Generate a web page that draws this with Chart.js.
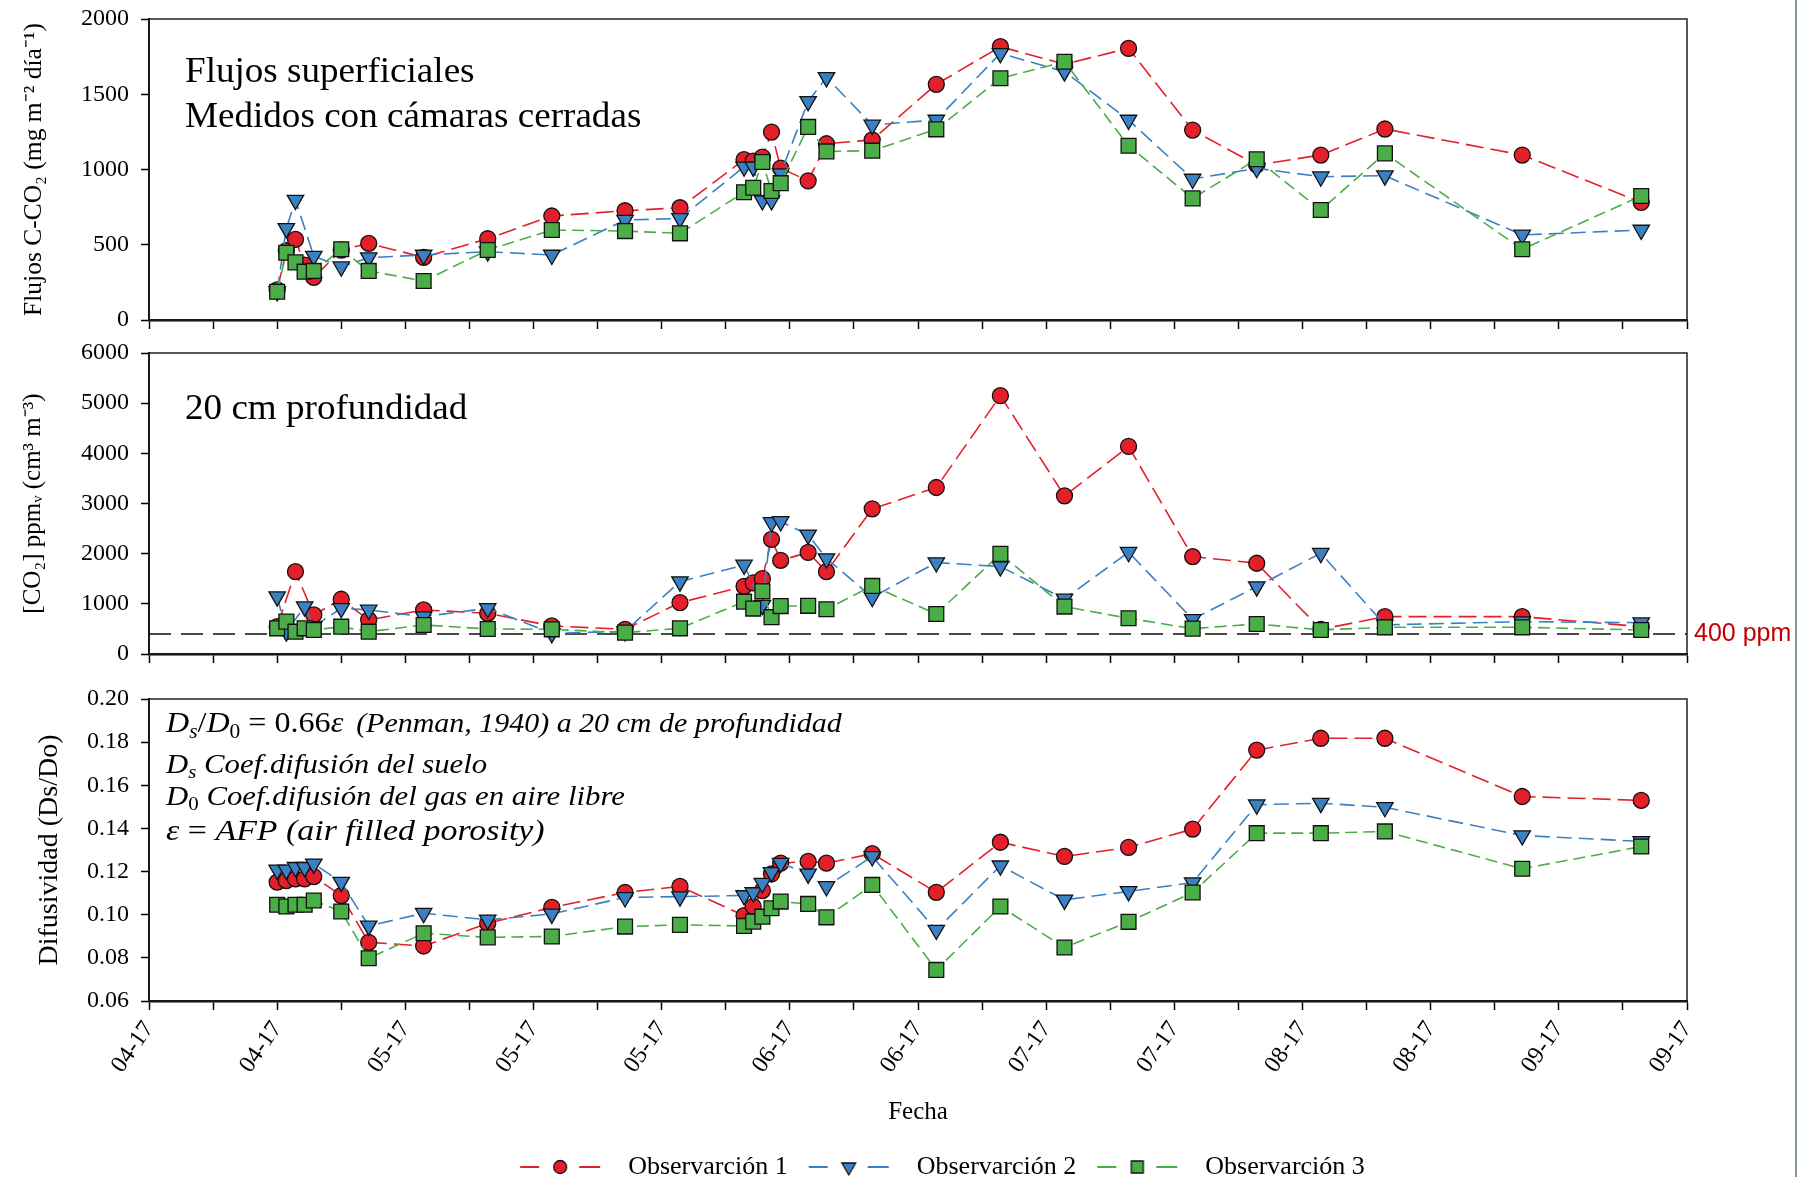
<!DOCTYPE html>
<html>
<head>
<meta charset="utf-8">
<title>Flujos y concentraciones de CO2</title>
<script src="https://cdn.jsdelivr.net/npm/chart.js@4.4.1/dist/chart.umd.min.js"></script>
<style>
    html, body { margin: 0; padding: 0; background: #fff; }
    #page { position: relative; width: 1799px; height: 1177px; overflow: hidden; }
    .panel { position: absolute; left: 0; width: 1799px; }
    #edge { position: absolute; left: 1795px; top: 0; width: 2px; height: 1177px; background: #7f9c93; }
</style>
</head>
<body>
<div id="page">
    <div class="panel" style="top:0;height:340px"><canvas id="fluxChart"></canvas></div>
    <div class="panel" style="top:335px;height:340px"><canvas id="co2Chart"></canvas></div>
    <div class="panel" style="top:680px;height:510px"><canvas id="diffChart"></canvas></div>
    <div id="edge"></div>
</div>
<script>
// Data (sampling dates shared by the three panels)
const startDate = '2017-04-04';
const endDay = 168;

const sampleDates = [
    '2017-04-18', '2017-04-19', '2017-04-20', '2017-04-21', '2017-04-22', '2017-04-25',
    '2017-04-28', '2017-05-04', '2017-05-11', '2017-05-18', '2017-05-26', '2017-06-01',
    '2017-06-08', '2017-06-09', '2017-06-10', '2017-06-11', '2017-06-12', '2017-06-15',
    '2017-06-17', '2017-06-22', '2017-06-29', '2017-07-06', '2017-07-13', '2017-07-20',
    '2017-07-27', '2017-08-03', '2017-08-10', '2017-08-17', '2017-09-01', '2017-09-14'
];

const seriesNames = ['Observarción 1', 'Observarción 2', 'Observarción 3'];

// Flujos superficiales C-CO2 (mg m-2 dia-1)
const fluxObs1 = [200, 460, 536, 365, 283, 465, 509, 416, 540, 691, 726, 746, 1065, 1056, 1082, 1249, 1009, 925, 1171, 1197, 1566, 1816, 1700, 1805, 1262, 1030, 1096, 1269, 1096, 782];
const fluxObs2 = [190, 609, 797, null, 425, 354, 414, 432, 454, 432, 664, 675, 1018, 1017, 794, 794, 973, 1453, 1612, 1296, 1329, 1772, 1650, 1329, 937, 1008, 952, 959, 565, 598];
const fluxObs3 = [188, 447, 383, 321, 326, 470, 326, 259, 465, 598, 591, 576, 849, 879, 1050, 857, 909, 1283, 1120, 1125, 1267, 1606, 1716, 1158, 808, 1068, 731, 1107, 470, 824];

// [CO2] ppmV a 20 cm
const co2Obs1 = [545, null, 1642, null, 778, 1091, 678, 878, 812, 559, 492, 1024, 1350, 1418, 1502, 2285, 1866, 2024, 1642, 2894, 3319, 5149, 3153, 4137, 1942, 1809, 492, 745, 745, 545];
const co2Obs2 = [1143, 445, null, 944, 550, 911, 878, 745, 911, 412, 450, 1443, 1775, null, 974, 2622, 2642, 2375, 1903, 1131, 1823, 1743, 1098, 2029, 692, 1344, 2009, 580, 645, 625];
const co2Obs3 = [512, 645, 445, 512, 479, 545, 445, 579, 499, 492, 426, 512, 1043, 905, 1249, 734, 955, 960, 892, 1357, 798, 1996, 945, 712, 506, 599, 479, 532, 532, 479];
const co2Ambient = 400;

// Difusividad (Ds/Do)
const diffObs1 = [0.1151, 0.1158, 0.1166, 0.1166, 0.1177, 0.1089, 0.0872, 0.0855, 0.0960, 0.1034, 0.1103, 0.1131, 0.0996, 0.1038, 0.1112, 0.1189, 0.1239, 0.1247, 0.1239, 0.1283, 0.1104, 0.1336, 0.1270, 0.1312, 0.1397, 0.1763, 0.1818, 0.1818, 0.1548, 0.1530];
const diffObs2 = [0.1208, 0.1208, 0.1220, 0.1220, 0.1236, 0.1151, 0.0948, 0.1007, 0.0976, 0.1004, 0.1080, 0.1084, 0.1089, 0.1103, 0.1146, 0.1196, 0.1239, 0.1189, 0.1131, 0.1270, 0.0929, 0.1227, 0.1069, 0.1108, 0.1149, 0.1510, 0.1517, 0.1498, 0.1367, 0.1340];
const diffObs3 = [0.1046, 0.1038, 0.1046, 0.1046, 0.1066, 0.1015, 0.0798, 0.0914, 0.0895, 0.0899, 0.0945, 0.0953, 0.0948, 0.0968, 0.0991, 0.1030, 0.1061, 0.1050, 0.0988, 0.1138, 0.0744, 0.1038, 0.0848, 0.0967, 0.1103, 0.1378, 0.1378, 0.1386, 0.1213, 0.1316];

// ---------------------------------------------------------------

const SERIF = '"Liberation Serif", "Times New Roman", serif';
Chart.defaults.font.family = SERIF;
Chart.defaults.color = '#000';

const styles = [
    { color: '#e3202a', dash: [18, 7], point: 'circle', radius: 8, legendRadius: 6.5, rot: 0 },
    { color: '#3a80c2', dash: [15, 7], point: 'triangle', radius: 9.5, legendRadius: 8, rot: 180 },
    { color: '#4bad48', dash: [12, 6], point: 'rect', radius: 10.5, legendRadius: 8.5, rot: 0 }
];

const dayOf = d => Math.round((Date.parse(d) - Date.parse(startDate)) / 86400000);

function tickDate(v) {
    const d = new Date(Date.parse(startDate) + v * 86400000);
    return String(d.getUTCMonth() + 1).padStart(2, '0') + '-' + String(d.getUTCFullYear()).slice(2);
}

function toPoints(values) {
    const pts = [];
    values.forEach((v, i) => { if (v !== null) pts.push({ x: dayOf(sampleDates[i]), y: v }); });
    return pts;
}

function makeDatasets(valueLists) {
    return valueLists.map((vals, i) => {
        const s = styles[i];
        return {
            label: seriesNames[i],
            data: toPoints(vals),
            borderColor: s.color,
            backgroundColor: s.color,
            borderWidth: 1.6,
            borderDash: s.dash,
            pointStyle: s.point,
            pointRadius: s.radius,
            pointRotation: s.rot,
            pointBackgroundColor: s.color,
            pointBorderColor: '#111',
            pointBorderWidth: 1.3,
            tension: 0,
            order: 3 - i
        };
    });
}

// legend sample: dash - marker - dash
function legendIcon(s) {
    const c = document.createElement('canvas');
    c.width = 84; c.height = 22;
    const g = c.getContext('2d');
    g.strokeStyle = s.color; g.lineWidth = 2.2;
    g.beginPath();
    g.moveTo(2, 11); g.lineTo(21, 11);
    g.moveTo(61, 11); g.lineTo(82, 11);
    g.stroke();
    g.fillStyle = s.color; g.strokeStyle = '#111'; g.lineWidth = 1.3;
    Chart.helpers.drawPoint(g, { pointStyle: s.point, radius: s.legendRadius, rotation: s.rot, borderWidth: 1.3 }, 42, 11);
    return c;
}

// draws a line of mixed-style text, stretched horizontally by sx
function drawRich(ctx, x, y, sx, segs) {
    ctx.save();
    ctx.translate(x, y);
    ctx.scale(sx, 1);
    let cx = 0;
    segs.forEach(s => {
        ctx.font = (s.i ? 'italic ' : '') + s.size + 'px ' + SERIF;
        ctx.fillText(s.t, cx, s.dy || 0);
        cx += ctx.measureText(s.t).width;
    });
    ctx.restore();
}

const framePlugin = {
    id: 'frame',
    beforeDatasetsDraw(chart) {
        const { ctx, chartArea: a } = chart;
        ctx.save();
        ctx.strokeStyle = '#222';
        ctx.lineWidth = 1.5;
        ctx.strokeRect(a.left, a.top, a.right - a.left, a.bottom - a.top);
        ctx.restore();
    }
};

const notesPlugin = {
    id: 'notes',
    afterDraw(chart, args, opts) {
        const { ctx, chartArea: a } = chart;
        ctx.save();
        ctx.fillStyle = '#000';
        ctx.textBaseline = 'alphabetic';
        (opts.lines || []).forEach(l => drawRich(ctx, a.left + l.x, a.top + l.y, l.sx || 1, l.segs));
        if (opts.refText) {
            const y = chart.scales.y.getPixelForValue(opts.refValue);
            ctx.font = '25px "Liberation Sans", Arial, sans-serif';
            ctx.fillStyle = '#c00000';
            ctx.textBaseline = 'middle';
            ctx.fillText(opts.refText, a.right + 7, y);
        }
        ctx.restore();
    }
};

// nudge the legend row so it sits where the original one does
const legendShift = {
    id: 'legendShift',
    afterLayout(chart, args, opts) {
        if (chart.legend && opts.dx) {
            chart.legend.left += opts.dx;
            chart.legend.right += opts.dx;
        }
    }
};

function xAxis(showLabels, height) {
    return {
        type: 'linear',
        min: 0,
        max: endDay,
        afterFit: s => { s.height = height; },
        border: { color: '#000', width: 2.5 },
        grid: { drawOnChartArea: false, tickLength: 9, color: '#000', tickWidth: 1.5 },
        ticks: {
            display: showLabels,
            stepSize: 7,
            autoSkip: false,
            minRotation: 55,
            maxRotation: 55,
            padding: 6,
            font: { size: 24 },
            callback: v => (v % 14 === 0 ? tickDate(v) : '')
        },
        title: showLabels
            ? { display: true, text: 'Fecha', font: { size: 25 }, padding: { top: 21, bottom: 21 } }
            : { display: false }
    };
}

function yAxis(min, max, step, digits, title, titleSize, titlePad) {
    return {
        min: min,
        max: max,
        afterFit: s => { s.width = 149; s.paddingTop = 0; s.paddingBottom = 0; },
        border: { color: '#000', width: 2 },
        grid: { drawOnChartArea: false, tickLength: 8, color: '#000', tickWidth: 1.5 },
        ticks: {
            stepSize: step,
            padding: 12,
            font: { size: 24 },
            callback: v => Number(v).toFixed(digits)
        },
        title: { display: true, text: title, font: { size: titleSize }, padding: { top: titlePad, bottom: 0 } }
    };
}

function baseOptions(pad, xa, ya, notes, legend) {
    return {
        responsive: true,
        maintainAspectRatio: false,
        animation: false,
        layout: { padding: pad },
        plugins: {
            legend: legend || { display: false },
            legendShift: { dx: legend ? 17 : 0 },
            tooltip: { enabled: false },
            notes: notes
        },
        scales: { x: xa, y: ya }
    };
}

document.addEventListener('DOMContentLoaded', () => {
    initFluxChart();
    initCo2Chart();
    initDiffChart();
});

function initFluxChart() {
    const ctx = document.getElementById('fluxChart').getContext('2d');
    new Chart(ctx, {
        type: 'line',
        data: { datasets: makeDatasets([fluxObs1, fluxObs2, fluxObs3]) },
        options: baseOptions(
            { top: 19, right: 112, bottom: 0, left: 0 },
            xAxis(false, 20),
            yAxis(0, 2000, 500, 0, 'Flujos C-CO₂ (mg m⁻² día⁻¹)', 25.5, 19),
            {
                lines: [
                    { x: 36, y: 63, sx: 1.06, segs: [{ t: 'Flujos superficiales', size: 35 }] },
                    { x: 36, y: 108, sx: 1.06, segs: [{ t: 'Medidos con cámaras cerradas', size: 35 }] }
                ]
            }
        ),
        plugins: [framePlugin, notesPlugin]
    });
}

function initCo2Chart() {
    const ctx = document.getElementById('co2Chart').getContext('2d');
    const datasets = makeDatasets([co2Obs1, co2Obs2, co2Obs3]);
    datasets.push({
        label: '400 ppm',
        data: [{ x: 0, y: co2Ambient }, { x: endDay, y: co2Ambient }],
        borderColor: '#111',
        borderWidth: 1.6,
        borderDash: [22, 10],
        pointRadius: 0,
        order: 10
    });
    new Chart(ctx, {
        type: 'line',
        data: { datasets: datasets },
        options: baseOptions(
            { top: 18, right: 112, bottom: 0, left: 0 },
            xAxis(false, 21),
            yAxis(0, 6000, 1000, 0, '[CO₂] ppmᵥ (cm³ m⁻³)', 25, 18),
            {
                lines: [{ x: 36, y: 66, sx: 1.06, segs: [{ t: '20 cm profundidad', size: 35 }] }],
                refValue: co2Ambient,
                refText: '400 ppm'
            }
        ),
        plugins: [framePlugin, notesPlugin]
    });
}

function initDiffChart() {
    const ctx = document.getElementById('diffChart').getContext('2d');
    const icons = styles.map(legendIcon);
    const legend = {
        display: true,
        position: 'bottom',
        fullSize: false,
        labels: {
            usePointStyle: true,
            pointStyleWidth: 110,
            padding: 6,
            font: { size: 26 },
            color: '#000',
            sort: (a, b) => a.datasetIndex - b.datasetIndex,
            generateLabels: chart => {
                const items = Chart.defaults.plugins.legend.labels.generateLabels(chart);
                items.forEach(it => { it.pointStyle = icons[it.datasetIndex]; it.rotation = 0; });
                return items;
            }
        }
    };
    new Chart(ctx, {
        type: 'line',
        data: { datasets: makeDatasets([diffObs1, diffObs2, diffObs3]) },
        options: baseOptions(
            { top: 19, right: 112, bottom: 0, left: 0 },
            xAxis(true, 147),
            yAxis(0.06, 0.20, 0.02, 2, 'Difusividad (Ds/Do)', 28, 33),
            {
                lines: [
                    { x: 17, y: 33, sx: 1.07, segs: [
                        { t: 'D', size: 30, i: true }, { t: 's', size: 20, i: true, dy: 6 },
                        { t: '/', size: 30 }, { t: 'D', size: 30, i: true }, { t: '0', size: 20, dy: 6 },
                        { t: ' = 0.66', size: 30 }, { t: 'ε', size: 30, i: true },
                        { t: '  ', size: 24 },
                        { t: '(Penman, 1940) a 20 cm de profundidad', size: 28, i: true }
                    ] },
                    { x: 17, y: 74, sx: 1.10, segs: [
                        { t: 'D', size: 28, i: true }, { t: 's', size: 19, i: true, dy: 5 },
                        { t: ' Coef.difusión del suelo', size: 28, i: true }
                    ] },
                    { x: 17, y: 106, sx: 1.10, segs: [
                        { t: 'D', size: 28, i: true }, { t: '0', size: 19, dy: 5 },
                        { t: ' Coef.difusión del gas en aire libre', size: 28, i: true }
                    ] },
                    { x: 17, y: 141, sx: 1.13, segs: [
                        { t: 'ε', size: 30, i: true }, { t: ' = ', size: 30 },
                        { t: 'AFP (air filled porosity)', size: 30, i: true }
                    ] }
                ]
            },
            legend
        ),
        plugins: [framePlugin, notesPlugin, legendShift]
    });
}
</script>
</body>
</html>
